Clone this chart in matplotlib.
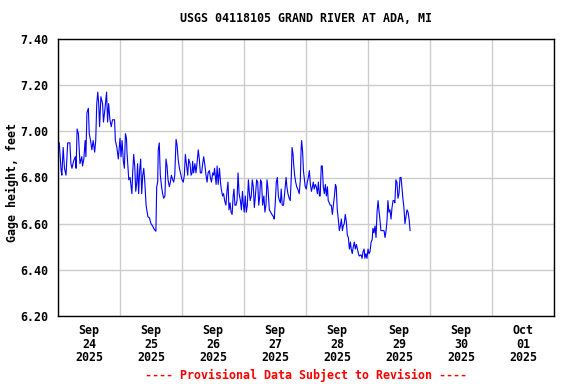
import datetime as dt
import matplotlib
matplotlib.use("Agg")
import matplotlib.pyplot as plt
import matplotlib.dates as mdates

# hours after 2025-09-24 00:00 and gage height (ft)
hours = [
    0.5, 1.2, 1.5, 2.0, 2.5, 3.1, 3.75, 4.6, 5.0, 5.4, 6.0, 6.7, 7.0, 7.4, 7.9,
    8.5, 9.2, 9.5, 10.0, 10.5, 10.8, 11.2, 11.75, 12.1, 12.6, 13.1, 13.6, 14.2,
    14.6, 15.0, 15.4, 15.75, 16.1, 16.6, 17.25, 17.6, 18.2, 18.8, 19.2, 19.6,
    20.1, 20.6, 21.1, 21.9, 22.2, 22.8, 23.35, 23.7,
    24.0, 24.4, 24.8, 25.3, 25.7, 26.1, 26.5, 26.7, 27.1, 27.4, 27.9, 28.3, 28.6,
    28.9, 29.3, 29.7, 30.1, 30.5, 30.8, 31.2, 31.6, 32.0, 32.4, 32.8, 33.2, 33.6,
    34.1, 34.5, 34.8, 35.4, 36.0, 36.6, 37.3, 37.9, 38.2, 38.6, 38.8, 39.2, 39.6,
    40.1, 40.5, 40.9, 41.4, 41.8, 42.2, 42.6, 43.1, 43.5, 43.9, 44.4, 44.8, 45.2,
    45.7, 46.1, 46.5, 47.0,
    47.6, 48.0, 48.5, 48.9, 49.3, 49.7, 50.2, 50.6, 51.1, 51.5, 51.9, 52.1, 52.5,
    53.0, 53.4, 53.8, 54.3, 54.7, 55.1, 55.6, 56.0, 56.4, 56.9, 57.3, 57.7, 58.1,
    58.6, 59.0, 59.4, 59.9, 60.3, 60.6, 61.2, 61.6, 62.0, 62.5, 62.9, 63.2, 63.7,
    64.1, 64.5, 65.0, 65.4, 65.8, 66.2, 66.6, 67.0, 67.4, 67.8, 68.1, 68.5, 68.9,
    69.3, 69.7, 70.1,
    70.6, 71.0, 71.4, 71.7, 72.1, 72.5, 72.9, 73.3, 73.7, 74.1, 74.4, 74.8, 75.2,
    75.6, 76.0, 76.4, 76.9, 77.3, 77.7, 78.1, 78.4, 78.8, 79.2, 79.7, 80.1, 80.5,
    80.9, 81.3, 81.8, 82.3, 82.8, 83.4, 83.7, 84.1, 84.5, 84.9, 85.3, 85.7, 86.1,
    86.4, 86.8, 87.3, 87.9, 88.3, 88.6, 89.0, 89.5, 89.9, 90.3, 90.6, 91.0, 91.2,
    91.6, 92.0, 92.4, 92.8, 93.4,
    93.8, 94.1, 94.3, 94.7, 95.0, 95.4, 95.7, 96.1, 96.5, 96.9, 97.3, 97.7, 98.1,
    98.5, 98.8, 99.2, 99.6, 100.0, 100.4, 100.8, 101.2, 101.5, 101.9, 102.3,
    102.7, 103.1, 103.5, 103.9, 104.3, 104.6, 105.0, 105.4, 105.8, 106.2, 106.6,
    107.0, 107.4, 107.7, 108.1, 108.5, 108.9, 109.3, 109.7, 110.1, 110.4, 110.8,
    111.2, 111.6, 112.0, 112.4, 112.8, 113.2, 113.5, 113.9, 114.3, 114.7, 115.1,
    115.5, 115.9, 116.3, 116.6,
    117.3, 117.7, 118.1, 118.5, 118.8, 119.2, 119.6, 120.0, 120.4, 120.8, 121.2,
    121.6, 121.9, 122.3, 122.7, 123.1, 123.5, 123.9, 124.3, 124.6, 125.0, 125.4,
    125.8, 126.2, 126.6, 127.0, 127.4, 127.7, 128.1, 128.5, 128.9, 129.3, 129.7,
    130.1, 130.4, 130.8, 131.2, 131.6, 132.0, 132.4, 132.8, 133.2, 133.5, 133.9,
    134.3, 134.7, 135.1, 135.5, 135.9, 136.3,
]
gage_ft = [
    6.95, 6.83, 6.81, 6.93, 6.84, 6.81, 6.95, 6.95, 6.86, 6.84, 6.87, 6.89, 6.84,
    7.01, 6.99, 6.86, 6.89, 6.85, 6.88, 6.96, 6.89, 7.08, 7.10, 6.99, 6.96, 6.92,
    6.96, 6.91, 6.96, 7.12, 7.17, 7.12, 7.02, 7.15, 7.12, 7.04, 7.10, 7.17, 7.04,
    7.12, 7.05, 7.02, 7.05, 7.05, 6.96, 6.93, 6.88, 6.93,
    6.97, 6.89, 6.96, 6.87, 6.84, 6.99, 6.97, 6.91, 6.84, 6.79, 6.80, 6.76, 6.73,
    6.82, 6.90, 6.85, 6.74, 6.78, 6.86, 6.73, 6.83, 6.88, 6.73, 6.81, 6.84, 6.78,
    6.68, 6.65, 6.63, 6.625, 6.60, 6.59, 6.575, 6.567, 6.76, 6.78, 6.92, 6.95,
    6.81, 6.76, 6.73, 6.71, 6.72, 6.88, 6.85, 6.79, 6.76, 6.78, 6.81, 6.79, 6.78,
    6.81, 6.965, 6.94, 6.88, 6.84,
    6.81, 6.79, 6.78, 6.81, 6.90, 6.86, 6.81, 6.88, 6.86, 6.81, 6.82, 6.87, 6.82,
    6.86, 6.82, 6.86, 6.92, 6.88, 6.82, 6.82, 6.86, 6.89, 6.85, 6.81, 6.78, 6.82,
    6.83, 6.80, 6.78, 6.82, 6.81, 6.84, 6.77, 6.85, 6.77, 6.84, 6.78, 6.75, 6.72,
    6.73, 6.70, 6.68, 6.74, 6.78, 6.66, 6.69, 6.65, 6.64, 6.72, 6.75, 6.68, 6.68,
    6.70, 6.82, 6.73,
    6.70, 6.66, 6.74, 6.69, 6.65, 6.72, 6.65, 6.68, 6.79, 6.73, 6.70, 6.72, 6.79,
    6.76, 6.67, 6.72, 6.79, 6.78, 6.68, 6.72, 6.79, 6.78, 6.68, 6.72, 6.65, 6.68,
    6.79, 6.75, 6.66, 6.65, 6.64, 6.63, 6.62, 6.69, 6.78, 6.80, 6.72, 6.70, 6.69,
    6.75, 6.68, 6.68, 6.75, 6.80, 6.76, 6.73, 6.71, 6.70, 6.80, 6.93, 6.90, 6.86,
    6.81, 6.78, 6.76, 6.75, 6.73,
    6.79, 6.92, 6.96, 6.91, 6.83, 6.79, 6.76, 6.75, 6.78, 6.80, 6.83, 6.77, 6.74,
    6.76, 6.78, 6.75, 6.77, 6.76, 6.73, 6.78, 6.72, 6.72, 6.85, 6.85, 6.76, 6.73,
    6.77, 6.72, 6.76, 6.70, 6.69, 6.68, 6.68, 6.64, 6.68, 6.72, 6.77, 6.76, 6.66,
    6.62, 6.57, 6.59, 6.62, 6.57, 6.59, 6.60, 6.64, 6.61, 6.55, 6.54, 6.49, 6.52,
    6.49, 6.47, 6.50, 6.52, 6.49, 6.51, 6.49, 6.47, 6.46,
    6.465, 6.45, 6.48, 6.49, 6.45, 6.47, 6.45, 6.49, 6.47, 6.48, 6.52, 6.53, 6.58,
    6.56, 6.59, 6.54, 6.65, 6.70, 6.65, 6.62, 6.57, 6.57, 6.57, 6.57, 6.54, 6.57,
    6.62, 6.70, 6.65, 6.66, 6.62, 6.67, 6.70, 6.70, 6.69, 6.79, 6.78, 6.71, 6.73,
    6.80, 6.80, 6.75, 6.71, 6.67, 6.60, 6.63, 6.66, 6.65, 6.62, 6.57,
]

start = dt.datetime(2025, 9, 24)
times = [start + dt.timedelta(hours=h) for h in hours]

TITLE = "USGS 04118105 GRAND RIVER AT ADA, MI"
YLABEL = "Gage height, feet"
FOOTNOTE = "---- Provisional Data Subject to Revision ----"
y_ticks = [6.20, 6.40, 6.60, 6.80, 7.00, 7.20, 7.40]

FONT = "DejaVu Sans Mono"
W, H = 576, 384
fig = plt.figure(figsize=(W / 100, H / 100), dpi=100)
ax = fig.add_axes([58 / W, 1 - 316 / H, 496 / W, 277 / H])

ax.plot(times, gage_ft, color="#0000ff", linewidth=0.8)

ax.set_xlim(start, start + dt.timedelta(days=8))
ax.set_ylim(6.20, 7.40)
ax.set_yticks(y_ticks)
ax.set_yticklabels([f"{v:.2f}" for v in y_ticks])

ax.xaxis.set_major_locator(mdates.DayLocator())
ax.xaxis.set_major_formatter(plt.NullFormatter())
ax.xaxis.set_minor_locator(mdates.HourLocator(byhour=12))
ax.xaxis.set_minor_formatter(mdates.DateFormatter("%b\n%d\n%Y"))

ax.grid(True, which="major", color="#cccccc", linewidth=1)
ax.set_axisbelow(True)
ax.tick_params(axis="both", which="both", length=0)
ax.tick_params(axis="y", pad=7)
ax.tick_params(axis="x", which="minor", pad=6)
for lab in ax.get_yticklabels():
    lab.set_fontfamily(FONT)
    lab.set_fontweight("bold")
    lab.set_fontsize(8.4)
for lab in ax.xaxis.get_minorticklabels():
    lab.set_fontfamily(FONT)
    lab.set_fontweight("bold")
    lab.set_fontsize(8.4)
    lab.set_linespacing(1.05)
for sp in ax.spines.values():
    sp.set_color("black")
    sp.set_linewidth(1)

fig.text(306 / W, 1 - 19 / H, TITLE, ha="center", va="center",
         family=FONT, weight="bold", fontsize=8.4)
fig.text(12 / W, 1 - 183 / H, YLABEL, ha="center", va="center", rotation=90,
         family=FONT, weight="bold", fontsize=8.4)
fig.text(306 / W, 1 - 375 / H, FOOTNOTE, ha="center", va="center",
         family=FONT, weight="bold", fontsize=8.4, color="red")

fig.savefig("out.png", dpi=100)
